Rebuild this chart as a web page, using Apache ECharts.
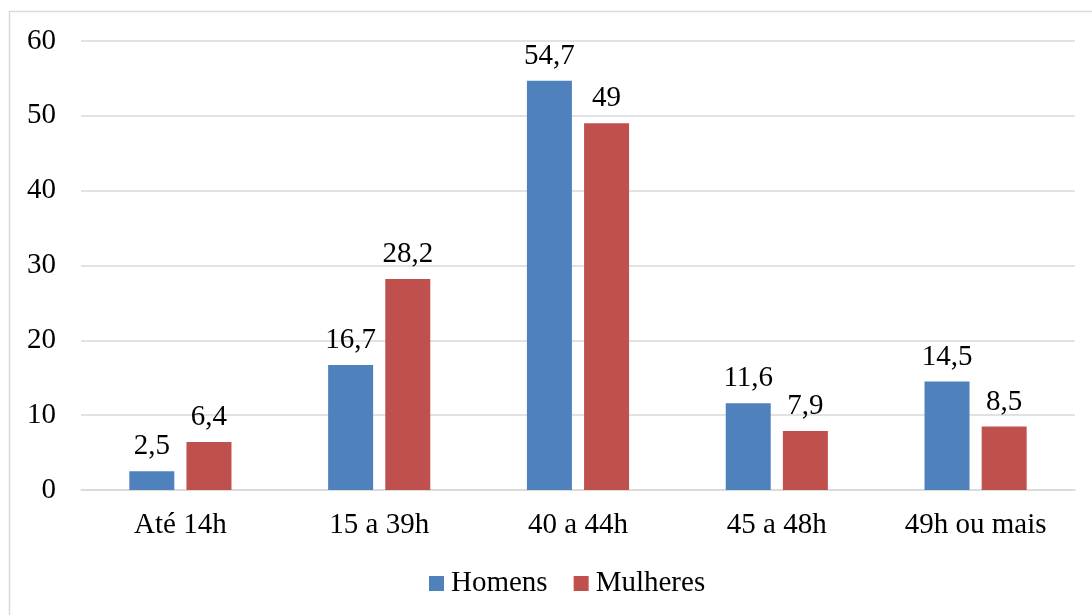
<!DOCTYPE html>
<html><head><meta charset="utf-8">
<script src="https://cdn.jsdelivr.net/npm/echarts@6/dist/echarts.min.js"></script>
<style>html,body{margin:0;padding:0;background:#fff}#c{width:1092px;height:615px}</style>
</head><body><div id="c"></div>
<script>
const categories = ['Até 14h', '15 a 39h', '40 a 44h', '45 a 48h', '49h ou mais'];
const homens = [2.5, 16.7, 54.7, 11.6, 14.5];
const mulheres = [6.4, 28.2, 49, 7.9, 8.5];
const yTicks = [0, 10, 20, 30, 40, 50, 60];

const font = '"Liberation Serif", "Times New Roman", serif';
const FS = 29;
const fmt = p => String(p.value).replace('.', ',');
const chart = echarts.init(document.getElementById('c'));
chart.setOption({
  animation: false,
  textStyle: { fontFamily: font },
  graphic: [{
    type: 'rect', shape: { x: 9.5, y: 11.5, width: 1100, height: 700 },
    style: { fill: 'none', stroke: '#d9d9d9', lineWidth: 1.5 }, silent: true, z: -1
  }],
  grid: { left: 81, right: 17, top: 41, bottom: 125, containLabel: false },
  legend: {
    bottom: 12, left: 424, itemWidth: 15, itemHeight: 15, itemGap: 26,
    icon: 'rect',
    textStyle: { fontFamily: font, fontSize: FS, color: '#000', padding: [0, 0, 0, 2] },
    data: ['Homens', 'Mulheres']
  },
  xAxis: {
    type: 'category', data: categories,
    axisLine: { show: true, lineStyle: { color: '#d9d9d9', width: 1.5 } },
    axisTick: { show: false },
    axisLabel: { fontFamily: font, fontSize: FS, color: '#000', margin: 21 }
  },
  yAxis: {
    type: 'value', min: yTicks[0], max: yTicks[yTicks.length - 1], interval: 10,
    axisLine: { show: false }, axisTick: { show: false },
    splitLine: { lineStyle: { color: '#d9d9d9', width: 1.5 } },
    axisLabel: { fontFamily: font, fontSize: FS, color: '#000', margin: 25 }
  },
  series: [
    { name: 'Homens', type: 'bar', data: homens, barWidth: 45, barGap: '27%',
      itemStyle: { color: '#4F81BD' },
      label: { show: true, position: 'top', distance: 10, formatter: fmt, fontFamily: font, fontSize: FS, color: '#000' } },
    { name: 'Mulheres', type: 'bar', data: mulheres, barWidth: 45,
      itemStyle: { color: '#C0504D' },
      label: { show: true, position: 'top', distance: 10, formatter: fmt, fontFamily: font, fontSize: FS, color: '#000' } }
  ]
});
</script></body></html>
